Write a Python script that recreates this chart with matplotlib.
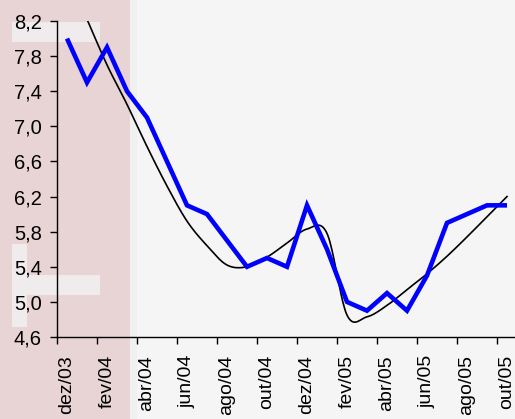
import numpy as np
import matplotlib
matplotlib.use("Agg")
import matplotlib.pyplot as plt
from matplotlib.patches import Rectangle
from matplotlib.ticker import FixedLocator, FuncFormatter

months = ["dez/03", "jan/04", "fev/04", "mar/04", "abr/04", "mai/04", "jun/04",
          "jul/04", "ago/04", "set/04", "out/04", "nov/04", "dez/04", "jan/05",
          "fev/05", "mar/05", "abr/05", "mai/05", "jun/05", "jul/05", "ago/05",
          "set/05", "out/05"]
blue_values = [8.0, 7.5, 7.9, 7.4, 7.1, 6.6, 6.1, 6.0, 5.7, 5.4, 5.5, 5.4, 6.1,
               5.6, 5.0, 4.9, 5.1, 4.9, 5.3, 5.9, 6.0, 6.1, 6.1]
trend_values = [np.nan, 8.22, 7.70, 7.25, 6.77, 6.32, 5.92, 5.64, 5.42, 5.40, 5.51,
                5.67, 5.83, 5.78, 4.85, 4.83, 4.96, 5.14, 5.32, 5.52, 5.74, 5.97, 6.20]
y_ticks = [4.6, 5.0, 5.4, 5.8, 6.2, 6.6, 7.0, 7.4, 7.8, 8.2]

W, H = 515, 419
fig = plt.figure(figsize=(W / 100, H / 100), dpi=100)
fig.patch.set_facecolor("#f3f3f3")

def px_rect(x0, y0, x1, y1, color, alpha=1.0):
    fig.patches.append(Rectangle((x0 / W, 1 - y1 / H), (x1 - x0) / W, (y1 - y0) / H,
                                 transform=fig.transFigure, facecolor=color,
                                 edgecolor="none", alpha=alpha, zorder=-10))

# decorative background
px_rect(130, 0, 515, 419, "#f5f5f5")
px_rect(129, 0, 137, 419, "#f0f0f0")
px_rect(0, 0, 130, 419, "#e8d3d5")
px_rect(12, 22, 100, 42, "#f0ecee")
px_rect(25, 275, 100, 295, "#f0ecee")
px_rect(12, 244, 27, 327, "#f0ecee")

ax = fig.add_axes([57 / W, (H - 337) / H, 460 / W, 316 / H])
ax.set_facecolor("none")
ax.set_zorder(5)

x = np.arange(len(months))

def catmull_rom(xs, ys, n=20):
    xs = np.asarray(xs, float); ys = np.asarray(ys, float)
    ok = ~np.isnan(ys)
    xs, ys = xs[ok], ys[ok]
    P = np.column_stack([xs, ys])
    P = np.vstack([2 * P[0] - P[1], P, 2 * P[-1] - P[-2]])
    out = []
    t = np.linspace(0, 1, n, endpoint=False)[:, None]
    for i in range(1, len(P) - 2):
        p0, p1, p2, p3 = P[i - 1], P[i], P[i + 1], P[i + 2]
        seg = 0.5 * ((2 * p1) + (-p0 + p2) * t + (2 * p0 - 5 * p1 + 4 * p2 - p3) * t ** 2
                     + (-p0 + 3 * p1 - 3 * p2 + p3) * t ** 3)
        out.append(seg)
    out.append(P[-2][None, :])
    out = np.vstack(out)
    return out[:, 0], out[:, 1]

tx, ty = catmull_rom(x, trend_values)
ax.plot(tx, ty, color="black", lw=1.2, zorder=3, solid_joinstyle="round")
ax.plot(x, blue_values, color="#0000ff", lw=3.3, zorder=4, solid_joinstyle="miter",
        solid_capstyle="butt")

ax.set_xlim(-0.5, len(months) - 0.5)
ax.set_ylim(4.6, 8.2)

ax.yaxis.set_major_locator(FixedLocator(y_ticks))
ax.yaxis.set_major_formatter(FuncFormatter(lambda v, p: f"{v:.1f}".replace(".", ",")))

ax.xaxis.set_major_locator(FixedLocator(np.arange(-0.5, len(months) - 0.5, 2)))
ax.xaxis.set_major_formatter(FuncFormatter(lambda v, p: ""))
ax.xaxis.set_minor_locator(FixedLocator(x[::2]))
ax.xaxis.set_minor_formatter(FuncFormatter(lambda v, p: months[int(round(v))]))

for s in ["top", "right"]:
    ax.spines[s].set_visible(False)
for s in ["left", "bottom"]:
    ax.spines[s].set_color("black")
    ax.spines[s].set_linewidth(1.0)

ax.tick_params(axis="y", direction="out", length=5, width=1, pad=6, labelsize=14.5)
ax.tick_params(axis="x", which="major", direction="out", length=5, width=1)
ax.tick_params(axis="x", which="minor", length=0, pad=13, labelsize=14,
               labelrotation=90)
for lab in ax.get_yticklabels() + ax.xaxis.get_minorticklabels():
    lab.set_fontfamily("Liberation Sans")

fig.savefig("out.png", dpi=100, facecolor=fig.get_facecolor())
